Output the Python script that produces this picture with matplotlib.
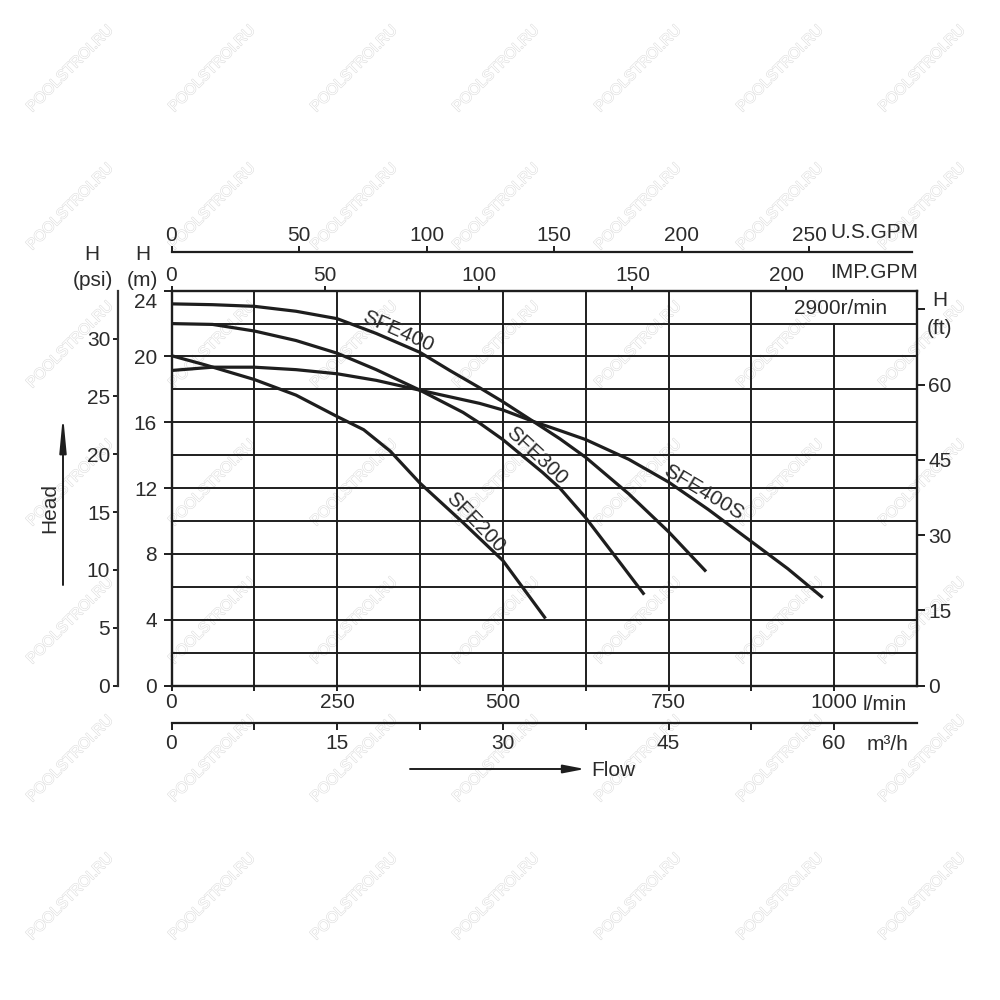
import matplotlib
matplotlib.use('Agg')
import matplotlib.pyplot as plt
import numpy as np
from matplotlib.patches import FancyArrowPatch
import matplotlib.patheffects as pe

plt.rcParams['font.family'] = ['Liberation Sans', 'DejaVu Sans']

# ---------------- data (flow in l/min, head in m) ----------------
flow_sfe400 = [0, 62, 125, 188, 250, 309, 375, 420, 465, 500, 546, 586, 625, 690, 750, 805]
head_sfe400 = [23.2, 23.15, 23.05, 22.75, 22.3, 21.4, 20.25, 19.15, 18.1, 17.25, 16.05, 15.0, 13.87, 11.65, 9.35, 7.0]

flow_sfe300 = [0, 62, 125, 188, 250, 309, 375, 440, 465, 500, 560, 586, 625, 680, 712]
head_sfe300 = [22.0, 21.95, 21.55, 20.97, 20.2, 19.2, 17.95, 16.6, 15.95, 14.95, 12.95, 12.0, 10.2, 7.3, 5.6]

flow_sfe400s = [0, 62, 125, 188, 250, 309, 375, 465, 500, 546, 586, 625, 690, 750, 810, 875, 930, 981]
head_sfe400s = [19.15, 19.35, 19.35, 19.2, 18.95, 18.55, 17.95, 17.15, 16.75, 16.05, 15.5, 14.95, 13.75, 12.37, 10.7, 8.75, 7.1, 5.4]

flow_sfe200 = [0, 50, 125, 188, 250, 290, 330, 375, 440, 500, 563]
head_sfe200 = [20.05, 19.5, 18.6, 17.65, 16.35, 15.55, 14.25, 12.3, 9.9, 7.6, 4.15]

curves = [
    ("SFE400", flow_sfe400, head_sfe400),
    ("SFE300", flow_sfe300, head_sfe300),
    ("SFE400S", flow_sfe400s, head_sfe400s),
    ("SFE200", flow_sfe200, head_sfe200),
]
# curve label anchor (flow, head) and rotation
curve_labels = {
    "SFE400": (342, 21.55, -24),
    "SFE300": (551, 13.95, -43),
    "SFE400S": (802, 11.76, -31),
    "SFE200": (459, 9.94, -46),
}

lpm_ticks = [0, 250, 500, 750, 1000]
lpm_minor = [125, 375, 625, 875]
m3h_ticks = [0, 15, 30, 45, 60]
m3h_minor = [7.5, 22.5, 37.5, 52.5]
imp_ticks = [0, 50, 100, 150, 200]
us_ticks = [0, 50, 100, 150, 200, 250]
m_ticks = [0, 4, 8, 12, 16, 20, 24]
psi_ticks = [0, 5, 10, 15, 20, 25, 30]
ft_ticks = [0, 15, 30, 45, 60, 75]
ft_labels = ['0', '15', '30', '45', '60', '']

INK = '#1e1e1e'
TXT = '#2b2b2b'
FS = 15

fig = plt.figure(figsize=(10, 10), dpi=100)
fig.patch.set_facecolor('white')


def fx(px):
    return px / 1000.0


def fy(py):
    return 1 - py / 1000.0


# watermark
for r in range(7):
    for c in range(7):
        fig.text(fx(70 + 142 * c), fy(69 + 138 * r), 'POOLSTROI.RU', rotation=45,
                 ha='center', va='center', fontsize=11, color='white', zorder=-5,
                 path_effects=[pe.withStroke(linewidth=0.8, foreground='#dddddd')])

# ---------------- main axes ----------------
ax = fig.add_axes([fx(171.5), fy(685.5), 0.7455, 0.3948])
ax.patch.set_alpha(0)
ax.set_xlim(0, 1125)
ax.set_ylim(0, 24)

for y in np.arange(2, 24, 2):
    ax.axhline(y, color=INK, lw=1.4, zorder=1)
for x in np.arange(125, 1125, 125):
    ax.axvline(x, ymax=(22 / 24 if x == 1000 else 1), color=INK, lw=1.4, zorder=1)

for name, fl, hd in curves:
    ax.plot(fl, hd, color=INK, lw=2.3, zorder=3, solid_joinstyle='round')
    lx, ly, rot = curve_labels[name]
    ax.text(lx, ly, name, rotation=rot, rotation_mode='anchor', ha='center', va='center',
            fontsize=15, color=TXT, zorder=4)

for s in ax.spines.values():
    s.set_linewidth(1.7)
    s.set_color(INK)

ax.set_xticks(lpm_ticks)
ax.set_xticklabels([str(v) for v in lpm_ticks])
ax.set_xticks(lpm_minor, minor=True)
ax.tick_params(axis='x', which='both', direction='out', length=3.6, width=1.4, color=INK,
               labelsize=FS, pad=2, labelcolor=TXT)
ax.set_yticks(m_ticks)
ax.set_yticklabels([str(v) if v != 24 else '' for v in m_ticks])
ax.tick_params(axis='y', which='both', direction='out', length=6.1, width=1.4, color=INK,
               labelsize=FS, pad=4.3, labelcolor=TXT)
ax.annotate('24', xy=(0, 24), xycoords=('axes fraction', 'data'), xytext=(-14.5, -12),
            textcoords='offset pixels', ha='right', va='center', fontsize=FS, color=TXT)

fig.text(fx(841), fy(309), '2900r/min', ha='center', va='center', fontsize=FS, color=TXT)

# ---------------- IMP GPM (top) ----------------
axi = ax.twiny()
axi.set_xlim(0, 242.6)
axi.set_xticks(imp_ticks)
axi.set_xticklabels([str(v) for v in imp_ticks])
axi.tick_params(axis='x', direction='out', length=3.9, width=1.4, color=INK,
                labelsize=FS, pad=0.5, labelcolor=TXT)
for s in axi.spines.values():
    s.set_visible(False)
fig.text(fx(830), fy(273), 'IMP.GPM', ha='left', va='center', fontsize=FS, color=TXT)

# ---------------- ft (right) ----------------
axf = ax.twinx()
axf.set_ylim(0, 24 * 3.28084)
axf.set_yticks(ft_ticks)
axf.set_yticklabels(ft_labels)
axf.tick_params(axis='y', direction='out', length=5.8, width=1.4, color=INK,
                labelsize=FS, pad=2.2, labelcolor=TXT)
for s in axf.spines.values():
    s.set_visible(False)
fig.text(fx(940), fy(301), 'H', ha='center', va='center', fontsize=FS, color=TXT)
fig.text(fx(940), fy(328), '(ft)', ha='center', va='center', fontsize=FS, color=TXT)

# ---------------- psi (far left) ----------------
axp = ax.twinx()
axp.set_ylim(0, 24 * 1.42233)
axp.yaxis.tick_left()
for k in ['right', 'top', 'bottom']:
    axp.spines[k].set_visible(False)
axp.spines['left'].set_visible(True)
axp.spines['left'].set_position(('axes', (118 - 171.5) / 745.5))
axp.spines['left'].set_linewidth(1.6)
axp.spines['left'].set_color('#333333')
axp.set_yticks(psi_ticks)
axp.set_yticklabels([str(v) for v in psi_ticks])
axp.tick_params(axis='y', direction='out', length=3.6, width=1.4, color=INK,
                labelsize=FS, pad=2, labelcolor=TXT)

fig.text(fx(92), fy(255), 'H', ha='center', va='center', fontsize=FS, color=TXT)
fig.text(fx(93), fy(280), '(psi)', ha='center', va='center', fontsize=FS, color=TXT)
fig.text(fx(143), fy(255), 'H', ha='center', va='center', fontsize=FS, color=TXT)
fig.text(fx(142), fy(280), '(m)', ha='center', va='center', fontsize=FS, color=TXT)

# ---------------- US GPM (top, separate line) ----------------
axu = fig.add_axes([fx(171.5), fy(252) - 0.001, (912 - 171.5) / 1000, 0.001])
axu.patch.set_alpha(0)
axu.set_xlim(0, (912 - 171.5) / 2.55)
axu.set_yticks([])
for k in ['left', 'right', 'bottom']:
    axu.spines[k].set_visible(False)
axu.spines['top'].set_linewidth(1.6)
axu.spines['top'].set_color(INK)
axu.xaxis.tick_top()
axu.set_xticks(us_ticks)
axu.set_xticklabels([str(v) for v in us_ticks])
axu.tick_params(axis='x', direction='out', length=4.3, width=1.4, color=INK,
                labelsize=FS, pad=0.5, labelcolor=TXT)
fig.text(fx(830), fy(233), 'U.S.GPM', ha='left', va='center', fontsize=FS, color=TXT)

# ---------------- m3/h (bottom, separate line) ----------------
axm = fig.add_axes([fx(171.5), fy(723), 0.7455, 0.001])
axm.patch.set_alpha(0)
axm.set_xlim(0, 67.5)
axm.set_yticks([])
for k in ['left', 'right', 'top']:
    axm.spines[k].set_visible(False)
axm.spines['bottom'].set_linewidth(1.6)
axm.spines['bottom'].set_color(INK)
axm.set_xticks(m3h_ticks)
axm.set_xticklabels([str(v) for v in m3h_ticks])
axm.set_xticks(m3h_minor, minor=True)
axm.tick_params(axis='x', which='both', direction='out', length=5, width=1.4, color=INK,
                labelsize=FS, pad=2.6, labelcolor=TXT)

fig.text(fx(863), fy(705), 'l/min', ha='left', va='center', fontsize=FS, color=TXT)
fig.text(fx(867), fy(745), 'm³/h', ha='left', va='center', fontsize=FS, color=TXT)

# ---------------- axis arrows ----------------
fig.add_artist(FancyArrowPatch((fx(63), fy(585)), (fx(63), fy(415)), transform=fig.transFigure,
                               arrowstyle='-|>,head_length=21,head_width=2', mutation_scale=1,
                               lw=1.4, color=INK, shrinkA=0, shrinkB=0))
fig.text(fx(50), fy(508), 'Head', rotation=90, ha='center', va='center', fontsize=FS, color=TXT)

fig.add_artist(FancyArrowPatch((fx(410), fy(769)), (fx(585), fy(769)), transform=fig.transFigure,
                               arrowstyle='-|>,head_length=13,head_width=2.5', mutation_scale=1,
                               lw=1.4, color=INK, shrinkA=0, shrinkB=0))
fig.text(fx(591), fy(770), 'Flow', ha='left', va='center', fontsize=FS, color=TXT)

fig.savefig('out.png', dpi=100, facecolor='white')
